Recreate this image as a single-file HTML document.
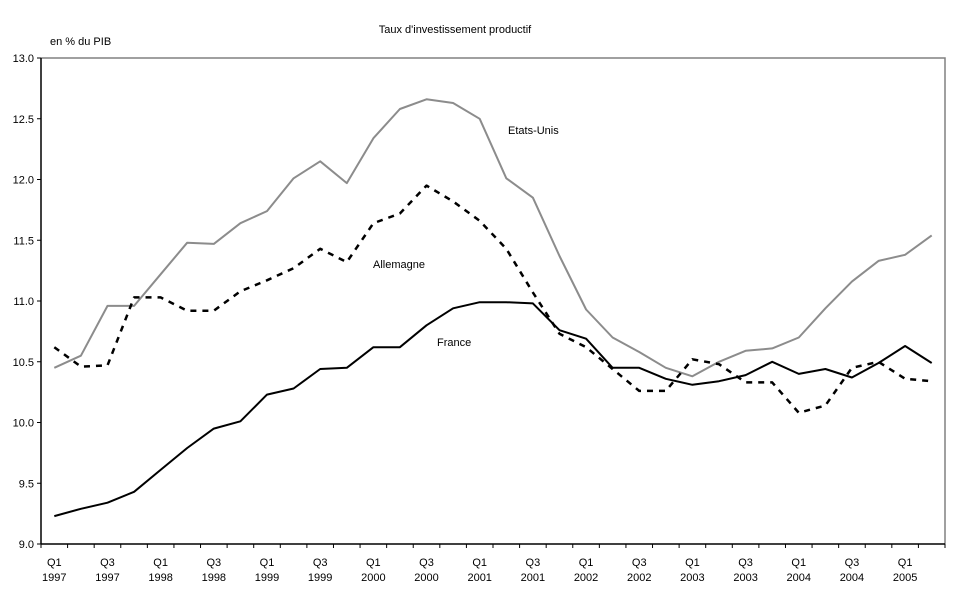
<!DOCTYPE html>
<html><head><meta charset="utf-8"><style>
body{margin:0;background:#fff;}
svg{display:block;font-family:"Liberation Sans",Arial,sans-serif;}
</style></head><body>
<svg id="chart" width="969" height="602" viewBox="0 0 969 602">
<text x="455" y="33" font-size="11" text-anchor="middle">Taux d'investissement productif</text>
<text x="50" y="45" font-size="11">en % du PIB</text>
<g id="grid"></g>
<g id="series"></g>
<g id="axes"></g>
<text x="508" y="134" font-size="11">Etats-Unis</text>
<text x="373" y="268" font-size="11">Allemagne</text>
<text x="437" y="346" font-size="11">France</text>
</svg>
<script>
const categories=["Q1 1997","Q2 1997","Q3 1997","Q4 1997","Q1 1998","Q2 1998","Q3 1998","Q4 1998","Q1 1999","Q2 1999","Q3 1999","Q4 1999","Q1 2000","Q2 2000","Q3 2000","Q4 2000","Q1 2001","Q2 2001","Q3 2001","Q4 2001","Q1 2002","Q2 2002","Q3 2002","Q4 2002","Q1 2003","Q2 2003","Q3 2003","Q4 2003","Q1 2004","Q2 2004","Q3 2004","Q4 2004","Q1 2005","Q2 2005"];
const usValues=[10.45,10.55,10.96,10.96,11.22,11.48,11.47,11.64,11.74,12.01,12.15,11.97,12.34,12.58,12.66,12.63,12.5,12.01,11.85,11.37,10.93,10.7,10.58,10.45,10.38,10.5,10.59,10.61,10.7,10.94,11.16,11.33,11.38,11.54];
const deValues=[10.62,10.46,10.47,11.03,11.03,10.92,10.92,11.08,11.17,11.27,11.43,11.32,11.64,11.72,11.95,11.82,11.66,11.43,11.07,10.73,10.62,10.44,10.26,10.26,10.52,10.48,10.33,10.33,10.08,10.14,10.45,10.5,10.36,10.34];
const frValues=[9.23,9.29,9.34,9.43,9.61,9.79,9.95,10.01,10.23,10.28,10.44,10.45,10.62,10.62,10.8,10.94,10.99,10.99,10.98,10.76,10.69,10.45,10.45,10.36,10.31,10.34,10.39,10.5,10.4,10.44,10.37,10.49,10.63,10.49];
const yTicks=[9.0,9.5,10.0,10.5,11.0,11.5,12.0,12.5,13.0];
const xTickLabels=["Q1|1997","Q3|1997","Q1|1998","Q3|1998","Q1|1999","Q3|1999","Q1|2000","Q3|2000","Q1|2001","Q3|2001","Q1|2002","Q3|2002","Q1|2003","Q3|2003","Q1|2004","Q3|2004","Q1|2005"];

const NS="http://www.w3.org/2000/svg";
const L=41,R=945,T=58,B=544,yMin=9,yMax=13;
const band=(R-L)/categories.length;
function xs(i){return L+band*(i+0.5);}
function ys(v){return B-(v-yMin)/(yMax-yMin)*(B-T);}
function mk(tag,attrs,parent){const e=document.createElementNS(NS,tag);for(const k in attrs)e.setAttribute(k,attrs[k]);parent.appendChild(e);return e;}
const axes=document.getElementById('axes'),series=document.getElementById('series'),grid=document.getElementById('grid');

const frame=mk('path',{d:`M${L},${T}H${R}V${B}`,fill:'none',stroke:'#808080','stroke-width':1.5},grid);



function line(vals,stroke,w,dash,name){
  const d=vals.map((v,i)=>(i?'L':'M')+xs(i).toFixed(1)+','+ys(v).toFixed(1)).join('');
  const p=mk('path',{d:d,fill:'none',stroke:stroke,'stroke-width':w,'stroke-dasharray':dash,'stroke-linejoin':'round'},series);
  
  
}
line(usValues,'#8c8c8c',2,'none','series-etats-unis');
line(deValues,'#000',2.5,'6,6','series-allemagne');
line(frValues,'#000',2,'none','series-france');

const ya=mk('line',{x1:L,y1:T,x2:L,y2:B,stroke:'#000','stroke-width':1.5},axes);


const xa=mk('line',{x1:L,y1:B,x2:R,y2:B,stroke:'#000','stroke-width':1.5},axes);


yTicks.forEach(v=>{
  mk('line',{x1:L-4,y1:ys(v),x2:L,y2:ys(v),stroke:'#000'},axes);
  const t=mk('text',{x:L-7,y:ys(v)+4,'font-size':11,'text-anchor':'end'},axes);
  t.textContent=v.toFixed(1);
  
  
});
for(let i=0;i<=categories.length;i++){mk('line',{x1:L+band*i,y1:B,x2:L+band*i,y2:B+4,stroke:'#000'},axes);}
xTickLabels.forEach((s,k)=>{
  const parts=s.split('|');const x=xs(k*2);
  const t=mk('text',{x:x,y:566,'font-size':11,'text-anchor':'middle'},axes);
  t.textContent=parts[0];
  
  
  const t2=mk('text',{x:x,y:581,'font-size':11,'text-anchor':'middle'},axes);
  t2.textContent=parts[1];
  
  
});
</script>
</body></html>
